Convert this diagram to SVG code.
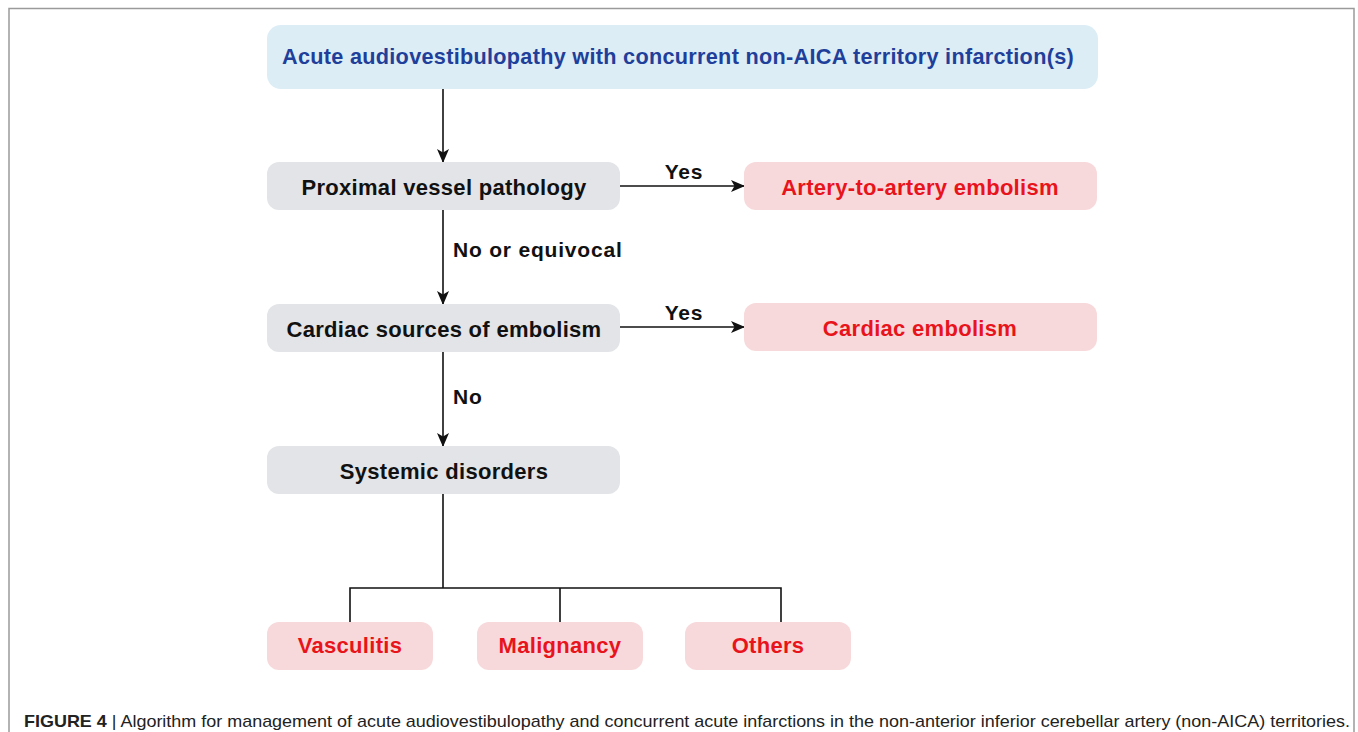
<svg xmlns="http://www.w3.org/2000/svg" width="1358" height="732" viewBox="0 0 1358 732">
<defs>
<style>
.lbl{font-family:"Liberation Sans",Arial,sans-serif;font-weight:bold;font-size:22px;letter-spacing:0.3px;text-anchor:middle;dominant-baseline:central}
.blue{fill:#dcedf6}.gray{fill:#e2e4e7}.pink{fill:#f8d9db}
.tb{fill:#1f3f9a}.tk{fill:#111}.tr{fill:#e8141c}
.edge{fill:none;stroke:#111;stroke-width:1.6}
.el{font-family:"Liberation Sans",Arial,sans-serif;font-weight:bold;font-size:21px;letter-spacing:0.8px;fill:#111}
</style>
<marker id="ah" viewBox="0 0 14 12" refX="13" refY="6" markerWidth="14" markerHeight="12" markerUnits="userSpaceOnUse" orient="auto">
<path d="M0,0 L14,6 L0,12 L3.5,6 Z" fill="#111"/>
</marker>
</defs>
<rect x="0" y="0" width="1358" height="732" fill="#fff"/>
<path d="M9,732 V8.5 H1354 V732" fill="none" stroke="#9a9a9a" stroke-width="1.5"/>

<g id="connectors">
<line class="edge" x1="443" y1="89" x2="443" y2="162" marker-end="url(#ah)"/>
<line class="edge" x1="443" y1="210" x2="443" y2="304" marker-end="url(#ah)"/>
<line class="edge" x1="443" y1="352" x2="443" y2="446" marker-end="url(#ah)"/>
<line class="edge" x1="620" y1="186" x2="744" y2="186" marker-end="url(#ah)"/>
<line class="edge" x1="620" y1="327" x2="744" y2="327" marker-end="url(#ah)"/>
<path class="edge" d="M443,494 V588 M350,622 V588 H781 V622 M560,588 V622"/>
<text class="el" x="684" y="179" text-anchor="middle">Yes</text>
<text class="el" x="684" y="320" text-anchor="middle">Yes</text>
<text class="el" x="453" y="257">No or equivocal</text>
<text class="el" x="453" y="404">No</text>
</g>

<g id="n-top">
<rect class="blue" x="267" y="25" width="831" height="64" rx="14"/>
<text class="lbl tb" x="678" y="56" textLength="792" lengthAdjust="spacingAndGlyphs">Acute audiovestibulopathy with concurrent non-AICA territory infarction(s)</text>
</g>
<g id="n-proximal">
<rect class="gray" x="267" y="162" width="353" height="48" rx="12"/>
<text class="lbl tk" x="444" y="187">Proximal vessel pathology</text>
</g>
<g id="n-artery">
<rect class="pink" x="744" y="162" width="353" height="48" rx="12"/>
<text class="lbl tr" x="920" y="187">Artery-to-artery embolism</text>
</g>
<g id="n-cardiac-src">
<rect class="gray" x="267" y="304" width="353" height="48" rx="12"/>
<text class="lbl tk" x="444" y="329">Cardiac sources of embolism</text>
</g>
<g id="n-cardiac-emb">
<rect class="pink" x="744" y="303" width="353" height="48" rx="12"/>
<text class="lbl tr" x="920" y="328">Cardiac embolism</text>
</g>
<g id="n-systemic">
<rect class="gray" x="267" y="446" width="353" height="48" rx="12"/>
<text class="lbl tk" x="444" y="471">Systemic disorders</text>
</g>
<g id="n-vasculitis">
<rect class="pink" x="267" y="622" width="166" height="48" rx="12"/>
<text class="lbl tr" x="350" y="645">Vasculitis</text>
</g>
<g id="n-malignancy">
<rect class="pink" x="477" y="622" width="166" height="48" rx="12"/>
<text class="lbl tr" x="560" y="645">Malignancy</text>
</g>
<g id="n-others">
<rect class="pink" x="685" y="622" width="166" height="48" rx="12"/>
<text class="lbl tr" x="768" y="645">Others</text>
</g>

<text x="24" y="727" font-family="'Liberation Sans',Arial,sans-serif" font-size="17" fill="#222" textLength="1326" lengthAdjust="spacingAndGlyphs"><tspan font-weight="bold">FIGURE 4</tspan> | Algorithm for management of acute audiovestibulopathy and concurrent acute infarctions in the non-anterior inferior cerebellar artery (non-AICA) territories.</text>
</svg>
